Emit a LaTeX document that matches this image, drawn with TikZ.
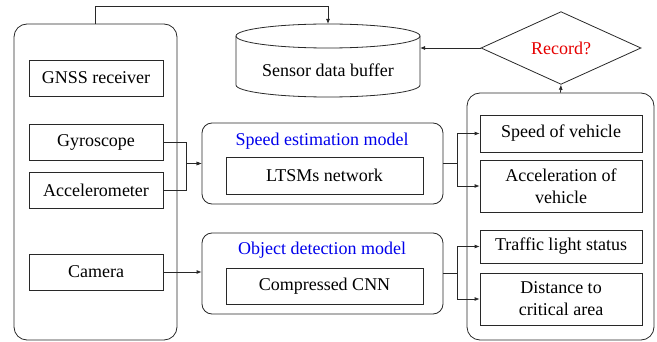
\documentclass[tikz,border=0pt]{standalone}
\usepackage{fontspec}
\setmainfont{Liberation Serif}
\newfontfamily\tnr{Liberation Serif}
\usetikzlibrary{arrows.meta,shapes.geometric}
\definecolor{lc}{RGB}{40,40,40}
\definecolor{tblue}{RGB}{0,0,235}
\definecolor{tred}{RGB}{230,0,0}
\begin{document}
\begin{tikzpicture}[x=1pt,y=-1pt,
  every node/.style={font=\tnr\fontsize{18}{22}\selectfont, inner sep=0pt, align=center},
  box/.style={draw=lc, line width=0.8pt},
  group/.style={draw=lc, line width=0.8pt, rounded corners=13pt},
  model/.style={draw=lc, line width=0.8pt, rounded corners=10pt},
  conn/.style={draw=lc, line width=0.8pt},
  arr/.style={conn, -{Latex[length=5pt,width=4pt]}}]
\useasboundingbox (0,0) rectangle (657,342);

% left group
\node[group, minimum width=163pt, minimum height=316pt] (left) at (95.5,182) {};
\node[box, minimum width=134pt, minimum height=36pt] (gnss) at (96,78) {GNSS receiver};
\node[box, minimum width=134pt, minimum height=36pt] (gyro) at (96,142) {Gyroscope};
\node[box, minimum width=134pt, minimum height=36pt] (accm) at (96,190) {Accelerometer};
\node[box, minimum width=134pt, minimum height=36pt] (cam) at (96,272) {Camera};

% models
\node[model, minimum width=241pt, minimum height=81pt] (speed) at (322.5,163.5) {};
\node[text=tblue] (speedt) at (322,141) {Speed estimation model};
\node[box, minimum width=197pt, minimum height=37pt] (lstm) at (324.5,175.5) {LTSMs network};
\node[model, minimum width=241pt, minimum height=81pt] (obj) at (322.5,273.5) {};
\node[text=tblue] (objt) at (322,250) {Object detection model};
\node[box, minimum width=197pt, minimum height=36pt] (cnn) at (324.5,286) {Compressed CNN};

% right group
\node[group, minimum width=187pt, minimum height=247pt] (right) at (560.5,216.5) {};
\node[box, minimum width=162pt, minimum height=37pt] (sov) at (561,133.5) {Speed of vehicle};
\node[box, minimum width=162pt, minimum height=52pt] (aov) at (561,186) {Acceleration of\\vehicle};
\node[box, minimum width=162pt, minimum height=33pt] (tls) at (561,246.5) {Traffic light status};
\node[box, minimum width=162pt, minimum height=52pt] (dist) at (561,299) {Distance to\\critical area};

% decision
\node[draw=lc, line width=0.8pt, shape=diamond, minimum width=160pt, minimum height=48pt, text=tred] (rec) at (561,48) {Record?};

% cylinder
\draw[lc, line width=0.8pt] (236,36) -- (236,85) arc[start angle=180,end angle=360,x radius=92pt,y radius=12pt] -- (420,36);
\draw[lc, line width=0.8pt] (328,36) ellipse [x radius=92pt, y radius=12pt];
\node (buf) at (328,70) {Sensor data buffer};
\coordinate (cyltop) at (328,24);
\coordinate (cylright) at (420,48);

% connectors
\draw[arr] (left.north) -- ++(0,-17) -| (cyltop);
\draw[arr] (gyro.east) -- ++(23,0) |- (speed.west);
\draw[arr] (accm.east) -- ++(23,0) |- (speed.west);
\draw[arr] (cam.east) -- (obj.west |- cam.east);
\draw[arr] (speed.east) -- ++(14,0) |- (sov.west);
\draw[arr] (speed.east) -- ++(14,0) |- (aov.west);
\draw[arr] (obj.east) -- ++(14,0) |- (tls.west);
\draw[arr] (obj.east) -- ++(14,0) |- (dist.west);
\draw[arr] (right.north) -- (rec.south);
\draw[arr] (rec.west) -- (cylright);
\end{tikzpicture}
\end{document}
